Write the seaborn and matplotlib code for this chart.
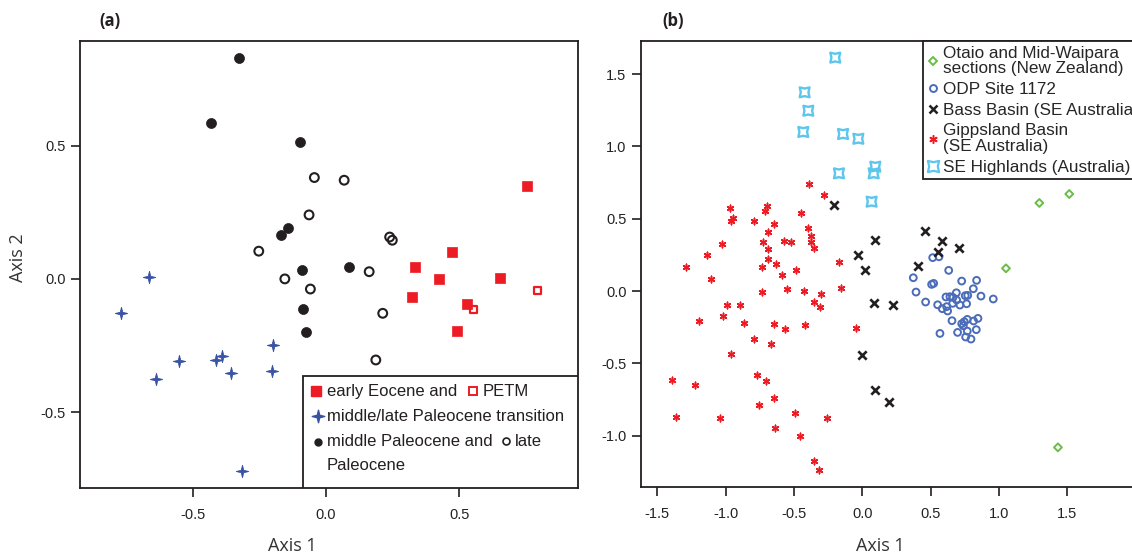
import matplotlib
matplotlib.use("Agg")
import numpy as np
import pandas as pd
import matplotlib.pyplot as plt
import seaborn as sns
from matplotlib.path import Path
from matplotlib.lines import Line2D
from matplotlib.patches import Rectangle

# ---- panel (a) data: NMDS axis scores ----
early_x = [0.754, 0.474, 0.336, 0.425, 0.652, 0.323, 0.529, 0.494]
early_y = [0.350, 0.102, 0.046, -0.002, 0.005, -0.066, -0.094, -0.195]
petm_x = [0.794, 0.553]
petm_y = [-0.044, -0.115]
trans_x = [-0.664, -0.772, -0.640, -0.553, -0.412, -0.391, -0.358, -0.198, -0.202, -0.317]
trans_y = [0.006, -0.126, -0.374, -0.309, -0.304, -0.289, -0.354, -0.249, -0.344, -0.721]
midpal_x = [-0.328, -0.431, -0.098, -0.144, -0.170, -0.090, 0.086, -0.086, -0.075]
midpal_y = [0.830, 0.586, 0.514, 0.189, 0.164, 0.035, 0.044, -0.111, -0.198]
latepal_x = [-0.044, 0.068, -0.064, 0.239, 0.249, -0.253, -0.155, 0.162, -0.059, 0.213, 0.187]
latepal_y = [0.380, 0.370, 0.240, 0.157, 0.145, 0.104, 0.000, 0.027, -0.038, -0.129, -0.304]

# ---- panel (b) data ----
nz_x = [1.514, 1.295, 1.051, 1.431]
nz_y = [0.671, 0.609, 0.157, -1.081]
odp_x = [0.515, 0.561, 0.632, 0.373, 0.507, 0.522, 0.727, 0.836, 0.393, 0.812,
         0.463, 0.612, 0.641, 0.688, 0.663, 0.753, 0.771, 0.868, 0.958, 0.551,
         0.585, 0.617, 0.624, 0.661, 0.714, 0.763, 0.690, 0.656, 0.568, 0.727,
         0.746, 0.768, 0.739, 0.814, 0.846, 0.697, 0.768, 0.834, 0.756, 0.795]
odp_y = [0.231, 0.237, 0.143, 0.092, 0.046, 0.053, 0.069, 0.074, -0.007, 0.016,
         -0.076, -0.041, -0.039, -0.012, -0.044, -0.032, -0.030, -0.035, -0.055, -0.095,
         -0.122, -0.108, -0.138, -0.085, -0.097, -0.088, -0.062, -0.205, -0.293, -0.226,
         -0.212, -0.196, -0.240, -0.207, -0.189, -0.286, -0.277, -0.267, -0.318, -0.332]
bass_x = [-0.210, 0.090, -0.034, 0.017, 0.458, 0.583, 0.556, 0.705, 0.410, 0.088,
          0.222, -0.005, 0.090, 0.198]
bass_y = [0.595, 0.353, 0.247, 0.145, 0.415, 0.348, 0.272, 0.300, 0.173, -0.081,
          -0.097, -0.445, -0.685, -0.770]
gipps_x = [-0.390, -0.283, -0.970, -0.700, -0.712, -0.946, -0.958, -0.795, -0.644, -0.446,
           -0.400, -0.690, -0.376, -0.573, -0.519, -0.724, -0.376, -1.029, -0.356, -0.692,
           -1.139, -0.688, -0.632, -1.292, -0.734, -0.488, -0.168, -0.585, -1.107, -0.549,
           -0.732, -0.427, -0.158, -0.305, -0.988, -0.897, -0.351, -0.312, -1.022, -1.197,
           -0.868, -0.649, -0.422, -0.568, -0.049, -0.795, -0.671, -0.958, -0.771, -0.707,
           -1.395, -1.227, -0.649, -0.758, -0.493, -1.366, -1.039, -0.258, -0.636, -0.458,
           -0.356, -0.319]
gipps_y = [0.742, 0.666, 0.576, 0.586, 0.553, 0.507, 0.482, 0.482, 0.463, 0.542,
           0.436, 0.406, 0.383, 0.343, 0.337, 0.341, 0.341, 0.323, 0.300, 0.288,
           0.247, 0.219, 0.187, 0.168, 0.164, 0.148, 0.201, 0.111, 0.085, 0.016,
           -0.005, 0.002, 0.023, -0.023, -0.095, -0.097, -0.074, -0.111, -0.171, -0.210,
           -0.219, -0.231, -0.233, -0.260, -0.258, -0.334, -0.367, -0.433, -0.579, -0.625,
           -0.618, -0.648, -0.738, -0.791, -0.844, -0.869, -0.881, -0.881, -0.947, -1.003,
           -1.178, -1.238]
seh_x = [-0.198, -0.422, -0.395, -0.432, -0.141, -0.029, 0.095, 0.083, -0.171, 0.068]
seh_y = [1.614, 1.374, 1.247, 1.100, 1.086, 1.053, 0.860, 0.814, 0.814, 0.618]

RED = "#ED1C24"
BLUE_STAR = "#3953A4"
BLUE_CIRC = "#4A6CB9"
CYAN = "#5CC6EC"
GREEN = "#6ABD45"
BLACK = "#231F20"

sns.set_style("ticks")
plt.rcParams["font.family"] = ["Liberation Sans", "DejaVu Sans"]
plt.rcParams["axes.unicode_minus"] = False

# custom marker shapes
star4 = Path.unit_regular_star(4, innerCircle=0.28)
_s = Path.unit_regular_star(4, innerCircle=0.55)
_ang = np.arctan2(_s.vertices[:, 1], _s.vertices[:, 0]) + np.pi / 4
_rad = np.hypot(_s.vertices[:, 0], _s.vertices[:, 1])
hl_marker = Path(np.column_stack([_rad * np.cos(_ang), _rad * np.sin(_ang)]), _s.codes)


def dots(ax, xs, ys, marker, color, s, lw=1.0, hollow=False):
    sns.scatterplot(x=xs, y=ys, marker=marker, s=s, color=color,
                    edgecolor=color, linewidth=lw, ax=ax, zorder=3)
    if hollow:
        ax.collections[-1].set_facecolor("none")


fig = plt.figure(figsize=(11.32, 5.54), dpi=100)
axa = fig.add_axes([80 / 1132, 1 - 488 / 554, 498 / 1132, 447 / 554])
axb = fig.add_axes([641 / 1132, 1 - 487 / 554, 504 / 1132, 446 / 554])

# ---- panel (a) ----
dots(axa, early_x, early_y, "s", RED, 46, 0.5)
dots(axa, petm_x, petm_y, "s", RED, 24, 1.6, hollow=True)
dots(axa, trans_x, trans_y, star4, BLUE_STAR, 80, 0.6)
dots(axa, midpal_x, midpal_y, "o", BLACK, 52, 0.5)
dots(axa, latepal_x, latepal_y, "o", BLACK, 40, 1.5, hollow=True)

axa.set_xlim(-0.925, 0.947)
axa.set_ylim(-0.784, 0.892)
axa.set_xticks([-0.5, 0.0, 0.5])
axa.set_yticks([-0.5, 0.0, 0.5])

# hand-made legend box for (a)
axa.add_patch(Rectangle((0.448, 0.0), 0.552, 0.2506, transform=axa.transAxes,
                        facecolor="white", edgecolor=BLACK, linewidth=1.3, zorder=5))
lk = dict(transform=axa.transAxes, zorder=6, clip_on=False)
lt = dict(transform=axa.transAxes, zorder=6, fontsize=12, va="center", color=BLACK)
axa.plot([0.474], [0.217], marker="s", ms=6.5, color=RED, mec=RED, **lk)
axa.text(0.496, 0.217, "early Eocene and", **lt)
axa.plot([0.789], [0.217], marker="s", ms=5.5, mfc="white", mec=RED, mew=1.4, **lk)
axa.text(0.809, 0.217, "PETM", **lt)
axa.plot([0.478], [0.161], marker=star4, ms=9, color=BLUE_STAR, **lk)
axa.text(0.496, 0.161, "middle/late Paleocene transition", **lt)
axa.plot([0.478], [0.103], marker="o", ms=5, color=BLACK, **lk)
axa.text(0.496, 0.103, "middle Paleocene and", **lt)
axa.plot([0.855], [0.105], marker="o", ms=5, mfc="white", mec=BLACK, mew=1.2, **lk)
axa.text(0.873, 0.103, "late", **lt)
axa.text(0.496, 0.051, "Paleocene", **lt)

# ---- panel (b) ----
dots(axb, gipps_x, gipps_y, (6, 2, 0), RED, 22, 1.1)
dots(axb, odp_x, odp_y, "o", BLUE_CIRC, 24, 1.4, hollow=True)
dots(axb, bass_x, bass_y, "x", BLACK, 36, 1.9)
dots(axb, nz_x, nz_y, "D", GREEN, 16, 1.4, hollow=True)
dots(axb, seh_x, seh_y, hl_marker, CYAN, 50, 1.7, hollow=True)

axb.set_xlim(-1.619, 2.068)
axb.set_ylim(-1.355, 1.729)
axb.set_xticks([-1.5, -1.0, -0.5, 0.0, 0.5, 1.0, 1.5])
axb.set_yticks([-1.0, -0.5, 0.0, 0.5, 1.0, 1.5])

handles = [
    Line2D([], [], ls="", marker="D", ms=4, mfc="none", mec=GREEN, mew=1.4),
    Line2D([], [], ls="", marker="o", ms=5, mfc="none", mec=BLUE_CIRC, mew=1.4),
    Line2D([], [], ls="", marker="x", ms=6, color=BLACK, mew=1.8),
    Line2D([], [], ls="", marker=(6, 2, 0), ms=6, color=RED, mew=1.1),
    Line2D([], [], ls="", marker=hl_marker, ms=8, mfc="none", mec=CYAN, mew=1.6),
]
labels = ["Otaio and Mid-Waipara\nsections (New Zealand)", "ODP Site 1172",
          "Bass Basin (SE Australia)", "Gippsland Basin\n(SE Australia)",
          "SE Highlands (Australia)"]
leg = axb.legend(handles, labels, loc="upper left", bbox_to_anchor=(0.5595, 1.0),
                 fontsize=12.3, frameon=True, fancybox=False, framealpha=1,
                 edgecolor=BLACK, borderpad=0.28, labelspacing=0.33,
                 handlelength=0.6, handletextpad=0.3, borderaxespad=0.0)
leg.get_frame().set_linewidth(1.3)
for t in leg.get_texts():
    t.set_linespacing(1.05)
leg.set_zorder(6)

for ax in (axa, axb):
    for sp in ax.spines.values():
        sp.set_linewidth(1.3)
        sp.set_color(BLACK)
    ax.tick_params(direction="out", length=6.5, width=1.2, color=BLACK,
                   labelsize=10.5, labelcolor="#222222")
    ax.tick_params(axis="x", pad=8)
    ax.tick_params(axis="y", pad=4)
    ax.set_xlabel("")
    ax.set_ylabel("")

lab = dict(fontsize=13, family=["Open Sans", "DejaVu Sans"], color="#333333")
fig.text(292 / 1132, 1 - 546 / 554, "Axis 1", ha="center", va="center", **lab)
fig.text(880 / 1132, 1 - 546 / 554, "Axis 1", ha="center", va="center", **lab)
fig.text(18 / 1132, 1 - 258 / 554, "Axis 2", ha="center", va="center", rotation=90, **lab)
pl = dict(fontsize=12, fontweight="bold", family=["Open Sans", "DejaVu Sans"], color=BLACK)
fig.text(110 / 1132, 1 - 21 / 554, "(a)", ha="center", va="center", **pl)
fig.text(673 / 1132, 1 - 21 / 554, "(b)", ha="center", va="center", **pl)

fig.savefig("out.png", dpi=100)
